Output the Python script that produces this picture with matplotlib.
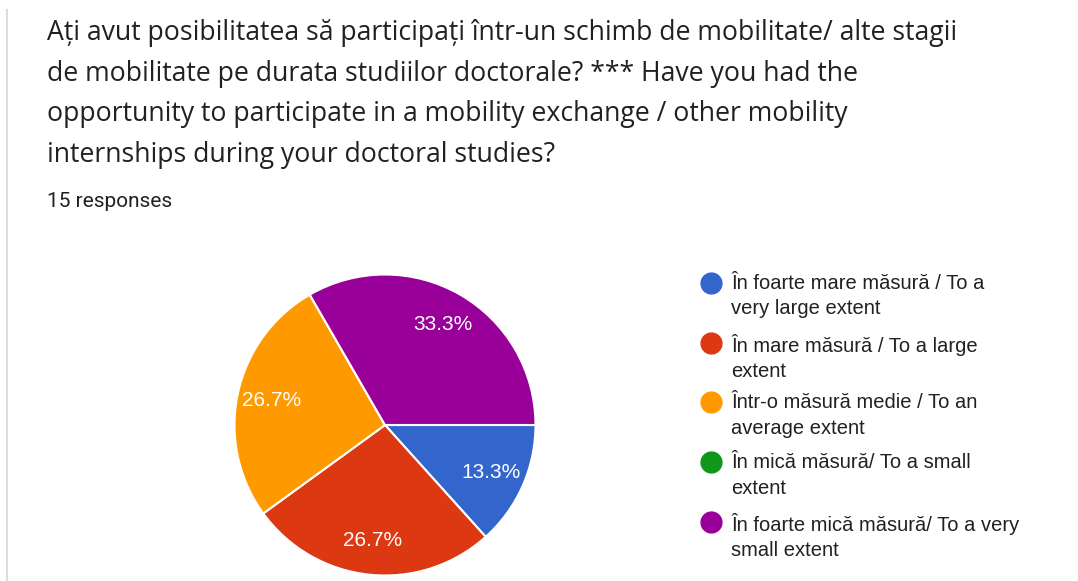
import matplotlib
matplotlib.use("Agg")
import matplotlib.pyplot as plt
from matplotlib.lines import Line2D

W, H = 1078, 581

title_lines = [
    "Ați avut posibilitatea să participați într-un schimb de mobilitate/ alte stagii",
    "de mobilitate pe durata studiilor doctorale? *** Have you had the",
    "opportunity to participate in a mobility exchange / other mobility",
    "internships during your doctoral studies?",
]
subtitle = "15 responses"

categories = [
    "În foarte mare măsură / To a\nvery large extent",
    "În mare măsură / To a large\nextent",
    "Într-o măsură medie / To an\naverage extent",
    "În mică măsură/ To a small\nextent",
    "În foarte mică măsură/ To a very\nsmall extent",
]
counts = [2, 4, 4, 0, 5]
colors = ["#3366cc", "#dc3912", "#ff9900", "#109618", "#990099"]


def fx(x):
    return x / W


def fy(y):
    return 1 - y / H


fig = plt.figure(figsize=(W / 100, H / 100), dpi=100, facecolor="white")

# thin grey border on the left like the forms card
fig.add_artist(Line2D([fx(7), fx(7)], [fy(10), fy(581)], color="#dadce0", lw=1.5))

# question text
for i, line in enumerate(title_lines):
    fig.text(fx(47), fy(40 + 40.7 * i), line, fontsize=19.2, family="Open Sans",
             color="#202124", va="baseline")
fig.text(fx(47), fy(207), subtitle, fontsize=15, family="Roboto",
         color="#202124", va="baseline")

# pie
r = 152
cx, cy = 385, 425
ax = fig.add_axes([fx(cx - r), fy(cy + r), 2 * r / W, 2 * r / H])
wedges, _, autotexts = ax.pie(
    counts, colors=colors, startangle=0, counterclock=False,
    autopct=lambda p: f"{p:.1f}%" if p > 0 else "", pctdistance=0.77,
    wedgeprops=dict(edgecolor="white", linewidth=1.5),
    textprops=dict(color="white", fontsize=15, family="Liberation Sans"),
)
ax.set_xlim(-1.01, 1.01)
ax.set_ylim(-1.01, 1.01)
ax.axis("off")

# legend
for i, (lab, col) in enumerate(zip(categories, colors)):
    y0 = 283 + 59.7 * i
    fig.add_artist(Line2D([fx(711)], [fy(y0)], marker="o", markersize=15,
                          color=col, linestyle="none"))
    fig.text(fx(731), fy(y0 - 9), lab, fontsize=14.5, family="Liberation Sans",
             color="#212121", va="top", linespacing=1.43)

fig.savefig("out.png", dpi=100)
